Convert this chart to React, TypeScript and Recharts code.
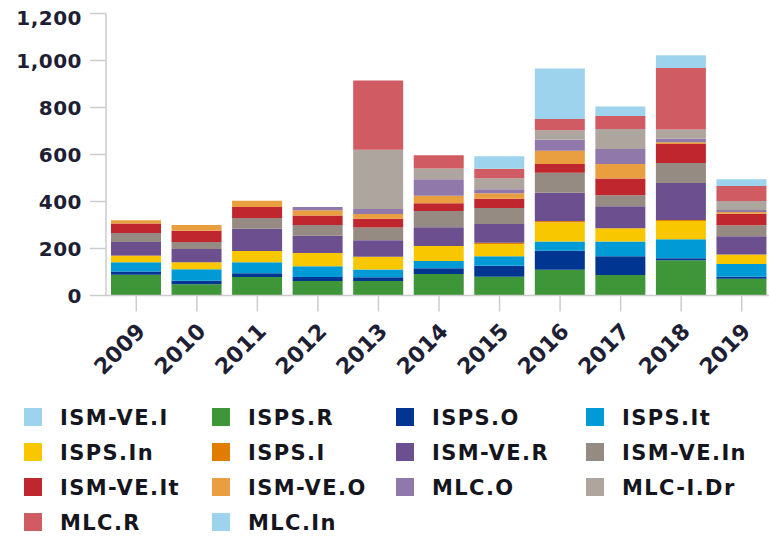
import React from 'react';
import { BarChart, Bar, XAxis, YAxis } from 'recharts';

const years = ['2009', '2010', '2011', '2012', '2013', '2014', '2015', '2016', '2017', '2018', '2019'];

const ismVeI = [0, 0, 0, 0, 0, 0, 0, 0, 0, 0, 0];
const ispsR = [88, 48, 79, 62, 62, 92, 80, 110, 87, 150, 71];
const ispsO = [14, 15, 16, 17, 16, 24, 47, 80, 80, 9, 9];
const ispsIt = [40, 49, 47, 46, 33, 31, 40, 40, 63, 80, 54];
const ispsIn = [26, 30, 47, 56, 54, 64, 52, 82, 56, 78, 40];
const ispsI = [2, 0, 0, 0, 0, 0, 5, 5, 0, 4, 0];
const ismVeR = [58, 56, 95, 73, 70, 79, 80, 120, 94, 158, 78];
const ismVeIn = [38, 30, 46, 46, 54, 70, 68, 85, 47, 85, 47];
const ismVeIt = [40, 48, 47, 40, 38, 33, 40, 38, 71, 81, 49];
const ismVeO = [14, 24, 26, 23, 20, 31, 23, 56, 62, 7, 7];
const mlcO = [0, 0, 0, 14, 21, 71, 17, 47, 63, 16, 9];
const mlcIDr = [0, 0, 0, 0, 252, 45, 47, 40, 85, 38, 38];
const mlcR = [0, 0, 0, 0, 295, 57, 40, 48, 56, 262, 64];
const mlcIn = [0, 0, 0, 0, 0, 0, 54, 215, 40, 54, 29];

const yTicks = [0, 200, 400, 600, 800, 1000, 1200];

const series = [
  { key: 'ISM-VE.I', values: ismVeI, color: '#9dd3ec' },
  { key: 'ISPS.R', values: ispsR, color: '#3f9638' },
  { key: 'ISPS.O', values: ispsO, color: '#003591' },
  { key: 'ISPS.It', values: ispsIt, color: '#009bd6' },
  { key: 'ISPS.In', values: ispsIn, color: '#f8c700' },
  { key: 'ISPS.I', values: ispsI, color: '#e07d00' },
  { key: 'ISM-VE.R', values: ismVeR, color: '#6c4f8f' },
  { key: 'ISM-VE.In', values: ismVeIn, color: '#958b82' },
  { key: 'ISM-VE.It', values: ismVeIt, color: '#c0262d' },
  { key: 'ISM-VE.O', values: ismVeO, color: '#e99e40' },
  { key: 'MLC.O', values: mlcO, color: '#9079aa' },
  { key: 'MLC-I.Dr', values: mlcIDr, color: '#aea59e' },
  { key: 'MLC.R', values: mlcR, color: '#d15b62' },
  { key: 'MLC.In', values: mlcIn, color: '#9dd3ec' },
];

const data = years.map((y, i) => {
  const row: Record<string, any> = { year: y };
  series.forEach((s) => {
    row[s.key] = s.values[i];
  });
  return row;
});

const FONT = '"DejaVu Sans", Verdana, sans-serif';

const YTick = (props: any) => {
  const { x, y, payload } = props;
  const v = payload.value;
  const dy = v === 1200 ? 4 : 0;
  return (
    <text
      x={x}
      y={y + dy}
      textAnchor="end"
      dominantBaseline="central"
      fontFamily={FONT}
      fontWeight="bold"
      fontSize={20}
      letterSpacing={0.5}
      fill="#1e1e34"
    >
      {Number(v).toLocaleString('en-US')}
    </text>
  );
};

const XTick = (props: any) => {
  const { x, y, payload } = props;
  return (
    <g transform={`translate(${x - 1},${y + 8}) rotate(-45)`}>
      <text
        x={0}
        y={0}
        dy="0.72em"
        textAnchor="end"
        fontFamily={FONT}
        fontWeight="bold"
        fontSize={22}
        fill="#1e1e34"
      >
        {payload.value}
      </text>
    </g>
  );
};

const legendCols = [24, 212, 396, 586];
const legendRows = [417, 452, 487, 522];

export default function App() {
  return (
    <div style={{ position: 'absolute', left: 0, top: 0, width: 769, height: 536, overflow: 'hidden', background: '#fff' }}>
      <div style={{ position: 'absolute', left: 0, top: 0 }}>
        <BarChart
          width={772}
          height={400}
          data={data}
          margin={{ top: 13.5, right: 0, bottom: 0, left: 0 }}
        >
          <XAxis
            dataKey="year"
            height={104.5}
            tickSize={16}
            tickMargin={2}
            axisLine={{ stroke: '#cccccc', strokeWidth: 1.5 }}
            tickLine={{ stroke: '#cccccc', strokeWidth: 1.5 }}
            tick={<XTick />}
            interval={0}
          />
          <YAxis
            width={106}
            domain={[0, 1200]}
            ticks={yTicks}
            tickSize={16}
            tickMargin={8}
            axisLine={{ stroke: '#cccccc', strokeWidth: 1.5 }}
            tickLine={{ stroke: '#cccccc', strokeWidth: 1.5 }}
            tick={<YTick />}
            interval={0}
          />
          {series.map((s) => (
            <Bar
              key={s.key}
              dataKey={s.key}
              stackId="a"
              fill={s.color}
              barSize={50}
              isAnimationActive={false}
            />
          ))}
        </BarChart>
      </div>
      {series.map((s, i) => {
        const col = i % 4;
        const row = Math.floor(i / 4);
        const left = legendCols[col];
        const cy = legendRows[row];
        return (
          <div key={s.key}>
            <div
              style={{
                position: 'absolute',
                left,
                top: cy - 9,
                width: 18,
                height: 18,
                background: s.color,
              }}
            />
            <div
              style={{
                position: 'absolute',
                left: left + 36,
                top: cy - 12,
                height: 26,
                lineHeight: '26px',
                fontFamily: FONT,
                fontWeight: 'bold',
                fontSize: 21,
                letterSpacing: 1.4,
                color: '#151520',
                whiteSpace: 'nowrap',
              }}
            >
              {s.key}
            </div>
          </div>
        );
      })}
    </div>
  );
}
